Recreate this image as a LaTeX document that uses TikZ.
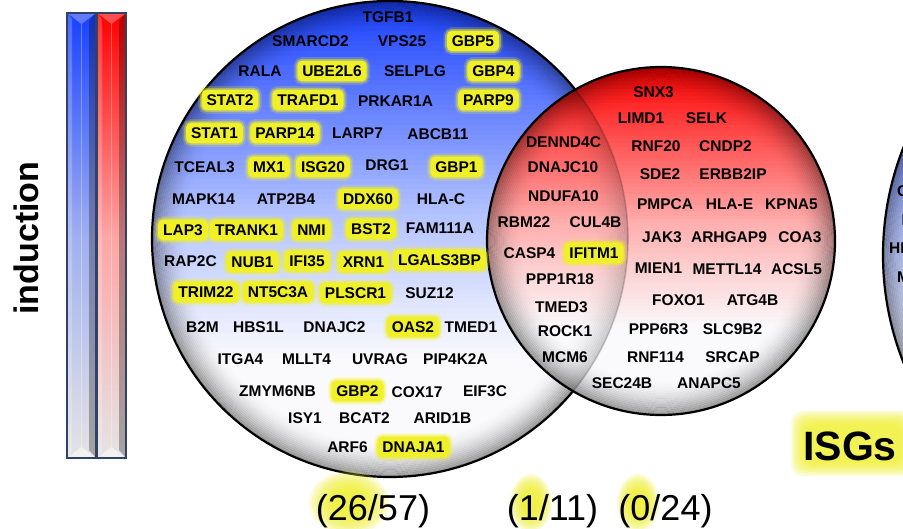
\documentclass[tikz,border=0pt]{standalone}
\usepackage{fontspec}
\setmainfont{Liberation Sans}
\definecolor{bluetop}{RGB}{25,65,255}
\definecolor{bluemid}{RGB}{180,195,255}
\definecolor{redtop}{RGB}{255,0,0}
\definecolor{redmid}{RGB}{255,175,175}
\definecolor{ballbottom}{RGB}{250,250,252}
\definecolor{hly}{RGB}{240,240,40}
\definecolor{barline}{RGB}{50,66,100}
\definecolor{barlow}{RGB}{228,228,228}
\definecolor{barbluemid}{RGB}{160,175,240}
\definecolor{barredmid}{RGB}{255,165,165}
\newcommand{\genefont}{\fontsize{15.5}{18}\selectfont\bfseries}
% #1 x, #2 y, #3 r, #4 strength
\newcommand{\rimshade}[4]{%
  \foreach \k in {1,...,20}{%
    \pgfmathsetmacro{\rr}{#3-1.8*\k+0.9}%
    \pgfmathsetmacro{\op}{#4*(1-\k/21)^2}%
    \draw[black, line width=1.9pt, draw opacity=\op] (#1,#2) circle[radius=\rr pt];
  }}
% #1 x, #2 y, #3 r, #4 top colour, #5 middle colour
\newcommand{\ballfill}[5]{%
  \begin{scope}
    \clip (#1,#2) circle[radius=#3 pt];
    \fill[ballbottom] (#1-#3,#2-#3) rectangle (#1+#3,#2+#3);
    \foreach \k in {0,...,71}{%
      \pgfmathsetmacro{\ya}{#2-#3+(\k/48)*#3}%
      \pgfmathsetmacro{\yb}{\ya+#3/48+0.7}%
      \pgfmathsetmacro{\tv}{(\k+0.5)/96}%
      \ifdim \tv pt<0.45pt
        \pgfmathtruncatemacro{\pp}{100*\tv/0.45}%
        \fill[#5!\pp!#4] (#1-#3,\ya) rectangle (#1+#3,\yb);
      \else
        \pgfmathtruncatemacro{\pp}{100*(\tv-0.45)/0.3}%
        \fill[ballbottom!\pp!#5] (#1-#3,\ya) rectangle (#1+#3,\yb);
      \fi
    }
  \end{scope}}
\newcommand{\glowblob}[4]{%
  \foreach \k in {0,...,9}{%
    \pgfmathsetmacro{\gx}{(1-\k*0.07)*#3}%
    \pgfmathsetmacro{\gy}{(1-\k*0.07)*#4}%
    \fill[hly, fill opacity=0.17] (#1,#2) ellipse[x radius=\gx pt, y radius=\gy pt];
  }}
\newcommand{\drawbar}[3]{%
  \shade[top color=#2, bottom color=barlow, middle color=#3] (#1,13) rectangle (#1+29,458);
  \fill[black, fill opacity=0.28] (#1+22,21) -- (#1+29,13) -- (#1+29,458) -- (#1+22,450) -- cycle;
  \fill[white, fill opacity=0.22] (#1,13) -- (#1+5,19) -- (#1+5,452) -- (#1,458) -- cycle;
  \fill[white, fill opacity=0.3] (#1,13) -- (#1+29,13) -- (#1+14.5,24) -- cycle;
  \fill[white, fill opacity=0.5] (#1,458) -- (#1+29,458) -- (#1+14.5,447) -- cycle;
  \draw[white, opacity=0.3, line width=1.5pt] (#1+14.5,24) -- (#1+14.5,447);
  \draw[barline, line width=1.5pt] (#1,13) rectangle (#1+29,458);
}
\begin{document}
\begin{tikzpicture}[x=1pt,y=-1pt,
  gene/.style={font=\genefont, inner xsep=5pt, inner ysep=4.5pt, text height=11.2pt, text depth=0.6pt},
  hl/.style={gene, fill=hly, rounded corners=5pt,
    preaction={draw=hly, draw opacity=0.2, line width=7pt},
    preaction={draw=hly, draw opacity=0.45, line width=3.5pt}},
  border/.style={line width=2.2pt, draw=black},
  num/.style={font=\fontsize{36}{40}\selectfont, anchor=base, inner sep=0pt},
]
\useasboundingbox (0,0) rectangle (903,529);
\fill[white] (0,0) rectangle (903,529);
\clip (0,0) rectangle (903,529);

% colour bars
\drawbar{67}{bluetop}{barbluemid}
\drawbar{97}{redtop}{barredmid}
\node[rotate=90, font=\fontsize{34}{40}\selectfont\bfseries] (ind) at (26,238) {induction};

% blue circle
\ballfill{390}{239}{238}{bluetop}{bluemid}
\rimshade{390}{239}{238}{0.40}
\draw[border] (390,239) circle[radius=238pt];

% red circle
\ballfill{661}{241}{174}{redtop}{redmid}
\rimshade{661}{241}{174}{0.40}
\begin{scope}
  \clip (661,241) circle[radius=174pt];
  \rimshade{390}{239}{238}{0.18}
  \draw[black, line width=1.6pt, draw opacity=0.18] (390,239) circle[radius=238pt];
\end{scope}
\draw[border] (661,241) circle[radius=174pt];

% right blue circle (partly shown)
\ballfill{1175}{255}{292}{bluetop}{bluemid}
\rimshade{1175}{255}{292}{0.40}
\draw[border] (1175,255) circle[radius=292pt];

% glows
\glowblob{349}{503}{40}{32}
\glowblob{531}{503}{21}{29}
\glowblob{638}{503}{21}{29}
\foreach \k in {0,...,6}
  \fill[hly, fill opacity=0.2, rounded corners=12pt] (791+\k*2.2,411+\k*2.2) rectangle (915-\k*2.2,476-\k*2.2);

% blue-only labels
\foreach \x/\y/\t [count=\i] in {
388/17/TGFB1, 310.5/41/SMARCD2, 402/41/VPS25, 260/71/RALA, 415/71/SELPLG,
395.5/101/PRKAR1A, 357.5/133/LARP7, 438/134/ABCB11, 204.5/167/TCEAL3, 387/165/DRG1,
203.5/199/MAPK14, 286/199/ATP2B4, 441/199/HLA-C, 440/228/FAM111A, 190.5/261/RAP2C,
429.5/293/SUZ12, 202.5/327/B2M, 258.5/327/HBS1L, 334.5/327/DNAJC2, 471/327/TMED1,
240.5/359/ITGA4, 306.5/359/MLLT4, 380/359/UVRAG, 455.5/359/PIP4K2A, 277.5/391/ZMYM6NB,
417/392/COX17, 485/391/EIF3C, 305/418/ISY1, 364.5/418/BCAT2, 442.5/418/ARID1B,
347.5/447/ARF6}
  \node[gene] (b\i) at (\x,\y) {\t};

% highlighted labels
\foreach \x/\y/\t [count=\i] in {
473/41/GBP5, 332/71/UBE2L6, 493.5/71/GBP4, 230/100/STAT2, 308/100/TRAFD1,
488.5/100/PARP9, 214.5/133/STAT1, 285/133/PARP14, 269/167/MX1, 323/167/ISG20,
456.5/167/GBP1, 368/199/DDX60, 183/230/LAP3, 246.5/230/TRANK1, 311.5/230/NMI,
371/229/BST2, 252.5/262/NUB1, 307/261/IFI35, 363.5/262/XRN1, 439.5/260/LGALS3BP,
206/292/TRIM22, 278/292/NT5C3A, 355.5/293/PLSCR1, 413/327/OAS2, 357.5/391/GBP2,
413.5/447/DNAJA1, 594/253/IFITM1}
  \node[hl] (h\i) at (\x,\y) {\t};

% red and overlap labels
\foreach \x/\y/\t [count=\i] in {
653.5/92/SNX3, 641/118/LIMD1, 706.5/118/SELK, 563.5/142/DENND4C, 656/146/RNF20,
725.5/146/CNDP2, 563/167/DNAJC10, 660/174/SDE2, 733/174/ERBB2IP, 563.5/196/NDUFA10,
665/204/PMPCA, 729.5/204/HLA-E, 791.5/204/KPNA5, 524/222/RBM22, 595.5/222/CUL4B,
662/237/JAK3, 729/237/ARHGAP9, 800/237/COA3, 529.5/253/CASP4, 658.5/268/MIEN1,
727/269/METTL14, 796.5/269/ACSL5, 560/279/PPP1R18, 678.5/300/FOXO1, 752.5/300/ATG4B,
561.5/307/TMED3, 658.5/329/PPP6R3, 732.5/329/SLC9B2, 565/331/ROCK1, 565/357/MCM6,
655.5/357/RNF114, 732.5/357/SRCAP, 622/383/SEC24B, 709/383/ANAPC5}
  \node[gene] (r\i) at (\x,\y) {\t};

% partial labels at the right edge (cut by the picture's edge, as in the reference)
\node[gene, anchor=west] (p1) at (892,191) {C};
\node[gene, anchor=west] (p2) at (896.5,220) {I};
\node[gene, anchor=west] (p3) at (884,248) {HI};
\node[gene, anchor=west] (p4) at (892,277) {M};

% counts
\node[num] (n1) at (373,520) {(26/57)};
\node[num] (n2) at (552.5,520) {(1/11)};
\node[num] (n3) at (665.5,520) {(0/24)};
\node[font=\fontsize{41}{46}\selectfont\bfseries] (isg) at (850,446) {ISGs};
\end{tikzpicture}
\end{document}
